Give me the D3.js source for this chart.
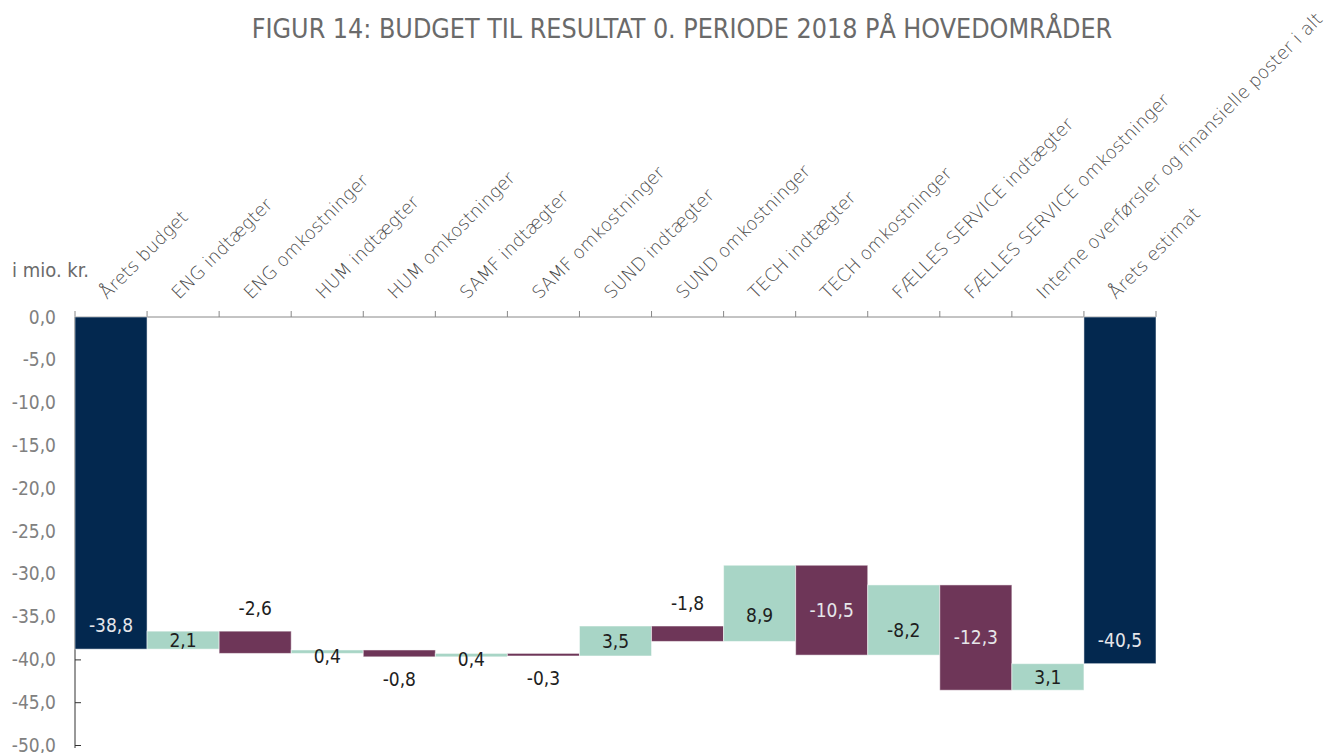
<!DOCTYPE html>
<html>
<head>
<meta charset="utf-8">
<script src="https://cdn.jsdelivr.net/npm/d3@7"></script>
<style>
  body { margin: 0; background: #fff; }
  svg text { font-family: "DejaVu Sans Condensed", "DejaVu Sans", sans-serif; }
</style>
</head>
<body>
<script>
// data
var categories = ["Årets budget", "ENG indtægter", "ENG omkostninger", "HUM indtægter", "HUM omkostninger",
    "SAMF indtægter", "SAMF omkostninger", "SUND indtægter", "SUND omkostninger", "TECH indtægter",
    "TECH omkostninger", "FÆLLES SERVICE indtægter", "FÆLLES SERVICE omkostninger",
    "Interne overførsler og finansielle poster i alt", "Årets estimat"];
var values = [-38.8, 2.1, -2.6, 0.4, -0.8, 0.4, -0.3, 3.5, -1.8, 8.9, -10.5, 8.2, -12.3, 3.1, -40.5];
var kinds = ["total", "step", "step", "step", "step", "step", "step", "step", "step", "step",
    "step", "step", "step", "step", "total"];
var valueLabels = ["-38,8", "2,1", "-2,6", "0,4", "-0,8", "0,4", "-0,3", "3,5", "-1,8", "8,9",
    "-10,5", "-8,2", "-12,3", "3,1", "-40,5"];
var yTicks = [0, -5, -10, -15, -20, -25, -30, -35, -40, -45, -50];

var width = 1337, height = 753;
var colors = {total: "#03284f", up: "#a8d5c6", down: "#6e3658"};

var svg = d3.select("body").append("svg")
    .attr("width", width)
    .attr("height", height);

// running totals
var run = 0;
var data = categories.map(function(c, i) {
    var d = {name: c, value: values[i], label: valueLabels[i]};
    if (kinds[i] == "total") {
        d.start = 0; d.end = values[i]; d.type = "total";
        run = values[i];
    } else {
        d.start = run; d.end = run + values[i];
        d.type = values[i] >= 0 ? "up" : "down";
        run = d.end;
    }
    return d;
});

var x = d3.scaleBand().domain(categories).range([75, 1156]).padding(0);
var y = d3.scaleLinear().domain([0, -50]).range([317, 745]);

svg.append("text")
    .attr("x", 682)
    .attr("y", 38)
    .attr("text-anchor", "middle")
    .style("font-size", "26.6px")
    .style("fill", "#6a6a6a")
    .text("FIGUR 14: BUDGET TIL RESULTAT 0. PERIODE 2018 PÅ HOVEDOMRÅDER");

svg.append("text")
    .attr("x", 12)
    .attr("y", 277)
    .style("font-size", "20px")
    .style("fill", "#6a6a6a")
    .text("i mio. kr.");

// y axis
var yAxis = svg.append("g")
    .attr("class", "y axis")
    .attr("transform", "translate(75,0)")
    .call(d3.axisLeft(y)
        .tickValues(yTicks)
        .tickSizeInner(-6)
        .tickSizeOuter(0)
        .tickPadding(19)
        .tickFormat(function(d) { return (d < 0 ? "-" : "") + Math.abs(d).toFixed(1).replace(".", ","); }));
yAxis.select(".domain").attr("stroke", "#333").attr("d", "M0,317V748");
yAxis.selectAll(".tick line").attr("stroke", "#333");
yAxis.selectAll(".tick text")
    .style("font-size", "19px")
    .style("fill", "#808080")
    .style("font-family", "DejaVu Sans Condensed");

// top category axis line and ticks at band edges
var edges = categories.map(function(c) { return x(c); }).concat([x.range()[1]]);
svg.append("line")
    .attr("x1", x.range()[0]).attr("x2", x.range()[1])
    .attr("y1", y(0)).attr("y2", y(0))
    .attr("stroke", "#888");
svg.selectAll(".xtick")
    .data(edges)
    .enter().append("line")
    .attr("class", "xtick")
    .attr("x1", function(d) { return d; }).attr("x2", function(d) { return d; })
    .attr("y1", y(0)).attr("y2", y(0) - 6)
    .attr("stroke", "#888");

svg.selectAll(".cat")
    .data(data)
    .enter().append("text")
    .attr("class", "cat")
    .attr("transform", function(d) { return "translate(" + (x(d.name) + x.bandwidth() / 2 - 4) + ",300) rotate(-45)"; })
    .style("font-family", "DejaVu Sans")
    .style("font-weight", "200")
    .style("font-size", "18px")
    .style("fill", "#4a4a4a")
    .text(function(d) { return d.name; });

// bars
svg.selectAll(".bar")
    .data(data)
    .enter().append("rect")
    .attr("class", "bar")
    .attr("x", function(d) { return x(d.name); })
    .attr("y", function(d) { return y(Math.max(d.start, d.end)); })
    .attr("width", x.bandwidth())
    .attr("height", function(d) { return Math.abs(y(d.start) - y(d.end)); })
    .attr("fill", function(d) { return colors[d.type]; })
    .attr("stroke", "#fff")
    .attr("stroke-opacity", 0.5)
    .attr("stroke-width", 1);

// value labels
function labelY(d) {
    var top = y(Math.max(d.start, d.end)), bot = y(Math.min(d.start, d.end));
    var h = bot - top;
    if (d.type == "total") return bot - 24;
    if (d.type == "down" && h < 25) return Math.abs(d.value) >= 1 ? top - 23 : bot + 22;
    if (h < 10) return (top + bot) / 2 + 4;
    if (d.type == "up" && h > 50) return top + h * 0.65;
    return (top + bot) / 2;
}

svg.selectAll(".vlabel")
    .data(data)
    .enter().append("text")
    .attr("class", "vlabel")
    .attr("x", function(d) { return x(d.name) + x.bandwidth() / 2; })
    .attr("y", function(d) { return labelY(d); })
    .attr("dy", "0.36em")
    .attr("text-anchor", "middle")
    .style("font-size", "19px")
    .style("fill", function(d) {
        var h = Math.abs(y(d.start) - y(d.end));
        if (d.type == "total" || (d.type == "down" && h >= 25)) return "#e6e6ea";
        return "#1e1e1e";
    })
    .text(function(d) { return d.label; });
</script>
</body>
</html>
